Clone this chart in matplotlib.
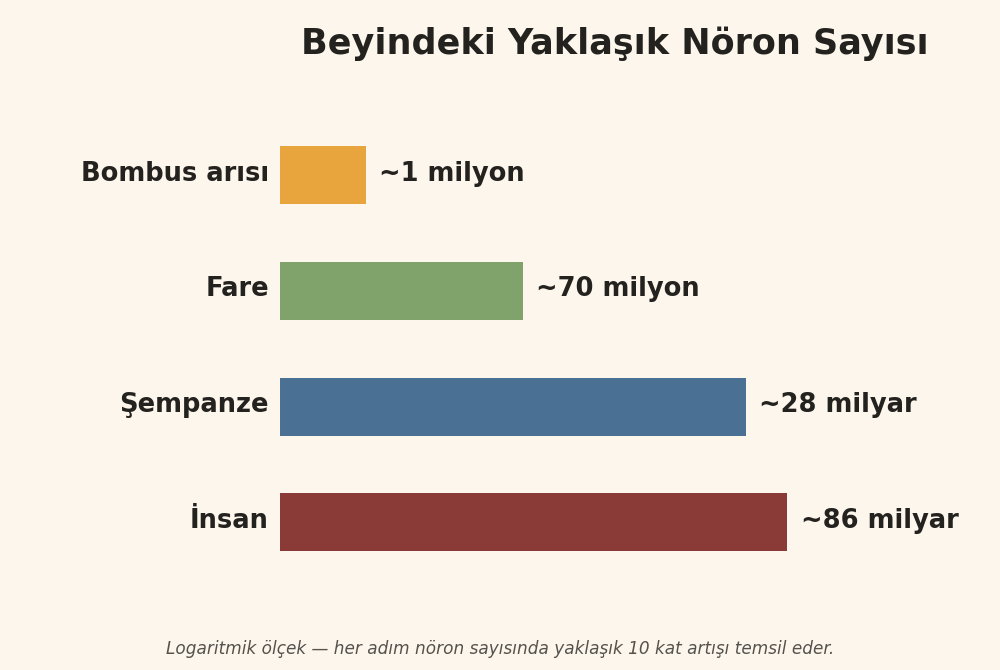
import numpy as np
import matplotlib.pyplot as plt

# veriler
turler = ['Bombus arısı', 'Fare', 'Şempanze', 'İnsan']
noron_sayisi = [1e6, 7e7, 2.8e10, 8.6e10]
etiketler = ['~1 milyon', '~70 milyon', '~28 milyar', '~86 milyar']
renkler = ['#E8A43D', '#80A36C', '#4A7093', '#8A3A37']

bg = '#FCF6EC'
koyu = '#24221F'

fig = plt.figure(figsize=(10, 6.7), dpi=100, facecolor=bg)
ax = fig.add_axes([0.28, 0.134, 0.68, 0.691])
ax.set_facecolor(bg)

y = np.arange(len(turler))
ax.barh(y, noron_sayisi, height=0.5, left=0, color=renkler)
ax.set_xscale('log')
xmin = 1e5
ax.set_xlim(xmin, xmin * 10 ** (680 / 85.5))
ax.set_ylim(len(turler) - 0.5, -0.5)

# değer etiketleri ve tür isimleri
for i, (v, t) in enumerate(zip(noron_sayisi, etiketler)):
    ax.annotate(t, (v, i), xytext=(9.5, 1), textcoords='offset points',
                va='center', ha='left', fontsize=18.5, fontweight='bold',
                color=koyu)
    ax.annotate(turler[i], (xmin, i), xytext=(-8, 1), textcoords='offset points',
                va='center', ha='right', fontsize=18.5, fontweight='bold',
                color=koyu, annotation_clip=False)

ax.set_yticks([])
ax.set_xticks([])
ax.xaxis.set_minor_locator(plt.NullLocator())
for s in ax.spines.values():
    s.set_visible(False)

fig.text(0.615, 0.934, 'Beyindeki Yaklaşık Nöron Sayısı', ha='center',
         va='center', fontsize=25.2, fontweight='bold', color=koyu)
fig.text(0.5, 0.031,
         'Logaritmik ölçek — her adım nöron sayısında yaklaşık 10 kat artışı temsil eder.',
         ha='center', va='center', fontsize=12.2, style='italic', color='#55524D')

fig.savefig('out.png', dpi=100, facecolor=bg)
